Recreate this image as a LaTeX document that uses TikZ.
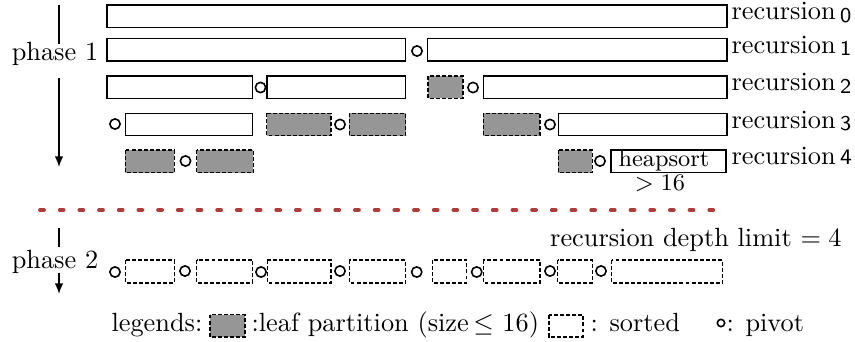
\documentclass[tikz,border=0pt]{standalone}
\usetikzlibrary{arrows.meta}
\definecolor{leafgray}{RGB}{150,150,150}
\definecolor{sepred}{RGB}{178,58,56}
\tikzset{
  part/.style={draw, line width=0.6pt},
  leafbox/.style={draw, fill=leafgray, line width=0.6pt, dash pattern=on 1.5pt off 0.8pt},
  sortedbox/.style={draw, line width=0.6pt, dash pattern=on 1.5pt off 0.8pt},
  pivotc/.style={draw, line width=0.6pt},
  lbl/.style={inner sep=0pt, anchor=base west},
  phasearrow/.style={line width=0.6pt, -{Latex[length=4pt,width=3.2pt]}},
}
\newcommand{\rdig}[1]{\raisebox{-1pt}{\fontsize{8}{9}\sffamily #1}}
\begin{document}
\begin{tikzpicture}[x=0.38pt,y=-0.38pt]
\useasboundingbox (0,0) rectangle (855,341);
% row 0
\draw[part] (107,5) rectangle (727,27.3);
% row 1
\draw[part] (107,38.3) rectangle (405.7,61);
\draw[pivotc] (417,51) circle [radius=1.95pt];
\draw[part] (427.7,38.3) rectangle (727,61);
% row 2
\draw[part] (107,76) rectangle (252.5,98.3);
\draw[pivotc] (260.5,87.5) circle [radius=1.95pt];
\draw[part] (267,76) rectangle (405.7,98.3);
\draw[leafbox] (428,76) rectangle (463,98.3);
\draw[pivotc] (473,87.5) circle [radius=1.95pt];
\draw[part] (483.7,76) rectangle (727,98.3);
% row 3
\draw[pivotc] (115,124) circle [radius=1.95pt];
\draw[part] (125.3,113.3) rectangle (252.5,135.7);
\draw[leafbox] (266.7,113.3) rectangle (331,135.7);
\draw[pivotc] (340,124.5) circle [radius=1.95pt];
\draw[leafbox] (349.3,113.3) rectangle (405.7,135.7);
\draw[leafbox] (483.3,113.3) rectangle (540,135.7);
\draw[pivotc] (550,124.5) circle [radius=1.95pt];
\draw[part] (558.3,113.3) rectangle (727,135.7);
% row 4
\draw[leafbox] (125.3,150) rectangle (174.3,172.7);
\draw[pivotc] (185.5,161) circle [radius=1.95pt];
\draw[leafbox] (196.7,150) rectangle (253.3,172.7);
\draw[leafbox] (558.3,150) rectangle (592.3,172.7);
\draw[pivotc] (600,161) circle [radius=1.95pt];
\draw[part] (611,150) rectangle (726,172.7);
\node[inner sep=0pt, anchor=base, font=\small] (heap) at (664,166.5) {heapsort};
\node[inner sep=0pt, anchor=base, font=\small] (gt) at (660,190) {$>16$};
% recursion labels
\node[lbl] (r0) at (731,19.7) {recursion\,\rdig{0}};
\node[lbl] (r1) at (731,53.2) {recursion\,\rdig{1}};
\node[lbl] (r2) at (731,90.7) {recursion\,\rdig{2}};
\node[lbl] (r3) at (731,128) {recursion\,\rdig{3}};
\node[lbl] (r4) at (731,164.8) {recursion\,{\fontsize{8.4}{9}\sffamily 4}};
% phase 1
\coordinate (p1top) at (59,5);
\coordinate (p1a) at (59,44);
\node[inner sep=0pt, anchor=base] (ph1) at (55,60) {phase 1};
\coordinate (p1b) at (59,78);
\coordinate (p1end) at (59,167);
\draw[line width=0.6pt] (p1top) -- (p1a);
\draw[phasearrow] (p1b) -- (p1end);
% separator
\coordinate (sepL) at (40,210);
\coordinate (sepR) at (714,210);
\draw[sepred, line width=1.45pt, line cap=round, dash pattern=on 1.5pt off 5.98pt] (sepL) -- (sepR);
% phase 2
\coordinate (p2top) at (59,228);
\coordinate (p2a) at (59,247);
\node[inner sep=0pt, anchor=base] (ph2) at (55,268.3) {phase 2};
\coordinate (p2b) at (59,273);
\coordinate (p2end) at (59,294);
\draw[line width=0.6pt] (p2top) -- (p2a);
\draw[phasearrow] (p2b) -- (p2end);
\node[inner sep=0pt, anchor=base east] (depth) at (842,246) {recursion depth limit $=4$};
% phase 2 row
\draw[pivotc] (115,272) circle [radius=1.95pt];
\draw[sortedbox] (125.7,260) rectangle (174.3,283);
\draw[pivotc] (185,271) circle [radius=1.95pt];
\draw[sortedbox] (196.7,260) rectangle (252.7,283);
\draw[pivotc] (261,272) circle [radius=1.95pt];
\draw[sortedbox] (267.3,260) rectangle (331,283);
\draw[pivotc] (340,271) circle [radius=1.95pt];
\draw[sortedbox] (349.3,260) rectangle (405.7,283);
\draw[pivotc] (416.7,272) circle [radius=1.95pt];
\draw[sortedbox] (432.7,260) rectangle (466.7,283);
\draw[pivotc] (476.7,272) circle [radius=1.95pt];
\draw[sortedbox] (483.3,260) rectangle (540,283);
\draw[pivotc] (550,271) circle [radius=1.95pt];
\draw[sortedbox] (557.7,260) rectangle (592.3,283);
\draw[pivotc] (601,271) circle [radius=1.95pt];
\draw[sortedbox] (611.7,260) rectangle (722.7,283);
% legend
\node[lbl] (leg) at (111,331) {legends:};
\draw[leafbox] (210,314.5) rectangle (245,337);
\node[lbl] (legleaf) at (251,331) {:leaf partition (size\,$\leq$ 16)};
\draw[sortedbox] (549,315) rectangle (583,337);
\node[lbl] (legsorted) at (590,331) {: sorted};
\draw[pivotc] (721,323) circle [radius=1.4pt];
\node[lbl] (legpivot) at (726,331) {: pivot};
\end{tikzpicture}
\end{document}
